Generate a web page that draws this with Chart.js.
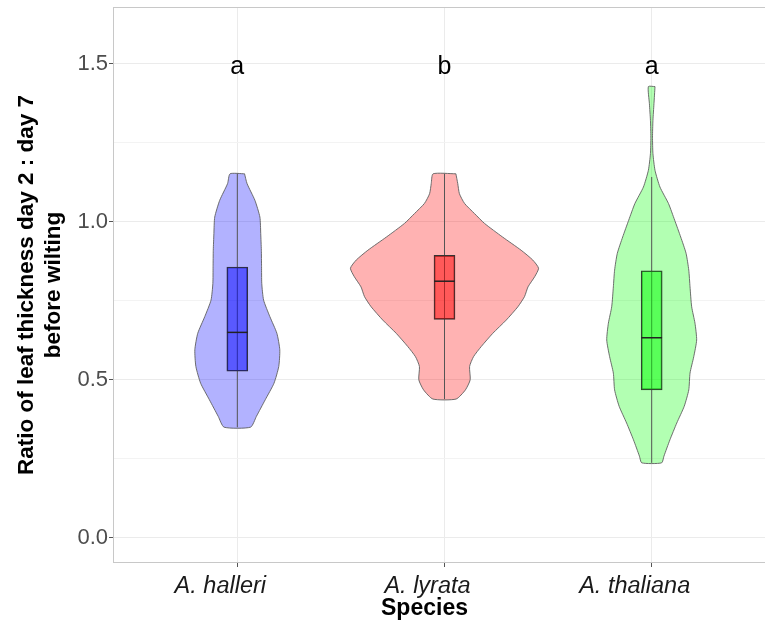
<!DOCTYPE html>
<html lang="en">

<head>
    <meta charset="UTF-8" />
    <title>Leaf thickness ratio by species</title>
    <script src="https://cdn.jsdelivr.net/npm/chart.js@4.4.1/dist/chart.umd.min.js"></script>
    <style>
        html, body { margin: 0; padding: 0; background: #fff; overflow: hidden; }
        #wrap { width: 790px; height: 628px; }
    </style>
</head>

<body>
    <div id="wrap"><canvas id="myChart"></canvas></div>

    <script>
        // categories and labels
        var species = ['A. halleri', 'A. lyrata', 'A. thaliana'];
        var letters = ['a', 'b', 'a'];
        var letterLevel = 1.5;
        var yTicks = [0, 0.25, 0.5, 0.75, 1, 1.25, 1.5];

        // boxplot statistics
        var whiskerLow  = [0.350, 0.439, 0.237];
        var boxLow      = [0.527, 0.691, 0.468];
        var medians     = [0.650, 0.812, 0.633];
        var boxHigh     = [0.857, 0.894, 0.845];
        var whiskerHigh = [1.152, 1.152, 1.142];

        // violin outlines: value levels (top to bottom) and half widths in category units
        var hallerLevels = [1.152, 1.121, 1.068, 1.015, 0.963, 0.910, 0.858, 0.805, 0.752, 0.700, 0.647, 0.595, 0.542, 0.489, 0.437, 0.384, 0.350];
        var hallerWidths = [0.035, 0.047, 0.085, 0.109, 0.113, 0.116, 0.117, 0.118, 0.127, 0.157, 0.191, 0.205, 0.200, 0.177, 0.135, 0.092, 0.064];

        var lyrataLevels = [1.152, 1.121, 1.089, 1.058, 1.026, 0.995, 0.952, 0.910, 0.879, 0.853, 0.826, 0.794, 0.763, 0.731, 0.689, 0.647, 0.605, 0.573, 0.542, 0.500, 0.468, 0.439];
        var lyrataWidths = [0.055, 0.064, 0.072, 0.097, 0.145, 0.193, 0.280, 0.370, 0.426, 0.454, 0.435, 0.403, 0.386, 0.354, 0.298, 0.233, 0.177, 0.140, 0.121, 0.124, 0.101, 0.056];

        var thalianaLevels = [1.428, 1.374, 1.321, 1.268, 1.216, 1.163, 1.110, 1.058, 1.005, 0.952, 0.900, 0.847, 0.794, 0.731, 0.679, 0.626, 0.573, 0.521, 0.468, 0.416, 0.363, 0.310, 0.258, 0.237];
        var thalianaWidths = [0.016, 0.011, 0.006, 0.004, 0.006, 0.016, 0.040, 0.081, 0.111, 0.140, 0.166, 0.179, 0.185, 0.193, 0.209, 0.217, 0.203, 0.185, 0.179, 0.157, 0.121, 0.088, 0.059, 0.048];

        var violinLevels = [hallerLevels, lyrataLevels, thalianaLevels];
        var violinWidths = [hallerWidths, lyrataWidths, thalianaWidths];

        var violinColors = ['rgba(0,0,255,0.3)', 'rgba(255,0,0,0.3)', 'rgba(0,255,0,0.3)'];
        var boxColors = ['rgba(0,0,255,0.5)', 'rgba(255,0,0,0.5)', 'rgba(0,255,0,0.5)'];
        var fontFamily = '"Liberation Sans", Arial, Helvetica, sans-serif';

        function isMajor(v) {
            return Math.abs(v * 2 - Math.round(v * 2)) < 1e-9;
        }

        var datasets = [];
        for (var i = 0; i < species.length; ++i) {
            var x0 = i + 1;
            var outline = [];
            for (var k = 0; k < violinLevels[i].length; ++k) {
                outline.push({ x: x0 + violinWidths[i][k], y: violinLevels[i][k] });
            }
            for (var k = violinLevels[i].length - 1; k >= 0; --k) {
                outline.push({ x: x0 - violinWidths[i][k], y: violinLevels[i][k] });
            }
            outline.push(outline[0]);

            datasets.push({
                type: 'scatter', data: outline, showLine: true, fill: 'shape',
                backgroundColor: violinColors[i], borderColor: '#5f5f5f', borderWidth: 0.9,
                pointRadius: 0, tension: 0.2, order: 4
            });
            datasets.push({
                type: 'scatter', data: [{ x: x0, y: whiskerLow[i] }, { x: x0, y: whiskerHigh[i] }],
                showLine: true, borderColor: '#555555', borderWidth: 1, pointRadius: 0, order: 3
            });
            datasets.push({
                type: 'scatter', data: [{ x: x0 - 0.05, y: medians[i] }, { x: x0 + 0.05, y: medians[i] }],
                showLine: true, borderColor: '#222222', borderWidth: 1.5, pointRadius: 0, order: 1
            });
        }
        datasets.push({
            type: 'bar',
            data: species.map(function (s, i) { return { x: i + 1, y: [boxLow[i], boxHigh[i]] }; }),
            backgroundColor: boxColors, borderColor: '#333333', borderWidth: 1,
            borderSkipped: false, barThickness: 21, order: 2
        });

        // panel border, significance letters and x title
        var extraPlugin = {
            id: 'extra',
            afterDatasetsDraw: function (chart) {
                var ctx = chart.ctx, xs = chart.scales.x, ys = chart.scales.y, a = chart.chartArea;
                ctx.save();
                ctx.strokeStyle = '#c8c8c8';
                ctx.lineWidth = 1;
                ctx.strokeRect(a.left + 0.5, a.top + 0.5, a.right - a.left - 1, a.bottom - a.top - 1);

                ctx.fillStyle = '#000000';
                ctx.textAlign = 'center';
                ctx.textBaseline = 'alphabetic';
                ctx.font = '25px ' + fontFamily;
                for (var i = 0; i < letters.length; ++i) {
                    ctx.fillText(letters[i], xs.getPixelForValue(i + 1), ys.getPixelForValue(letterLevel) + 10);
                }
                ctx.font = 'bold 23px ' + fontFamily;
                ctx.fillText('Species', (a.left + a.right) / 2 - 20, 615);
                ctx.restore();
            }
        };

        var ctx = document.getElementById('myChart').getContext('2d');
        var myChart = new Chart(ctx, {
            type: 'scatter',
            data: { datasets: datasets },
            plugins: [extraPlugin],
            options: {
                responsive: true,
                maintainAspectRatio: false,
                animation: false,
                layout: { padding: { top: 7, right: 14, left: 0, bottom: 0 } },
                plugins: { legend: { display: false }, tooltip: { enabled: false } },
                scales: {
                    x: {
                        type: 'linear', min: 0.4, max: 3.6, offset: false,
                        afterBuildTicks: function (axis) {
                            axis.ticks = species.map(function (s, i) { return { value: i + 1 }; });
                        },
                        afterFit: function (axis) {
                            axis.height = 65;
                            axis.paddingLeft = 0;
                            axis.paddingRight = 0;
                        },
                        border: { display: false },
                        grid: { offset: false, color: '#ebebeb', tickColor: '#555555', tickLength: 4 },
                        ticks: {
                            autoSkip: false, maxRotation: 0, padding: 5, labelOffset: -17,
                            color: '#1a1a1a',
                            font: { family: fontFamily, size: 23.5, style: 'italic' },
                            callback: function (v) { return species[Math.round(v) - 1]; }
                        }
                    },
                    y: {
                        type: 'linear', min: -0.08, max: 1.68,
                        afterBuildTicks: function (axis) {
                            axis.ticks = yTicks.map(function (v) { return { value: v }; });
                        },
                        afterFit: function (axis) {
                            axis.width = 113;
                            axis.paddingTop = 0;
                            axis.paddingBottom = 0;
                        },
                        border: { display: false },
                        grid: {
                            tickLength: 4,
                            color: function (c) { return c.tick && isMajor(c.tick.value) ? '#ebebeb' : '#f3f3f3'; },
                            tickColor: function (c) { return c.tick && isMajor(c.tick.value) ? '#555555' : 'rgba(0,0,0,0)'; }
                        },
                        ticks: {
                            autoSkip: false, padding: 1, color: '#4d4d4d',
                            font: { family: fontFamily, size: 22 },
                            callback: function (v) { return isMajor(v) ? v.toFixed(1) : ''; }
                        },
                        title: {
                            display: true,
                            text: ['Ratio of leaf thickness day 2 : day 7', 'before wilting'],
                            color: '#000000',
                            font: { family: fontFamily, size: 22.5, weight: 'bold', lineHeight: 1.2 },
                            padding: { top: 13, bottom: 0 }
                        }
                    }
                }
            }
        });
    </script>
</body>

</html>
